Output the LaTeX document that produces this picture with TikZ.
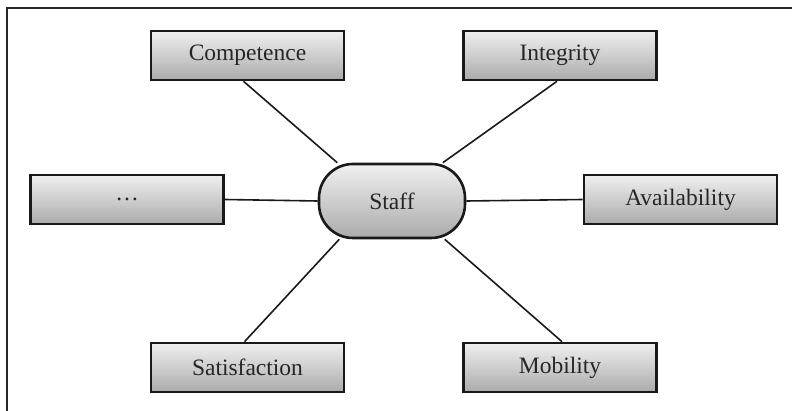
\documentclass[tikz,border=0pt]{standalone}
\usepackage{fontspec}
\setmainfont{Liberation Serif}
\usepackage{tikz}
\usetikzlibrary{calc}
\pgfdeclarelayer{bg}
\pgfsetlayers{bg,main}

\begin{document}
\begin{tikzpicture}[x=1pt, y=-1pt,
  attr/.style={draw=black!90, line width=2.6pt, top color=black!6, bottom color=black!33,
    minimum width=193pt, minimum height=49pt, inner sep=0pt,
    font=\fontsize{23.5}{28}\selectfont, text=black!85},
  hub/.style={attr, minimum width=146pt, minimum height=74pt, rounded corners=34pt},
  link/.style={line width=1.6pt, black!90}]
\useasboundingbox (0, 0) rectangle (792, 411);
\begin{scope}
  \node[attr] (comp) at (247.5, 55.5) {Competence}; %top left
  \node[attr] (integ) at (560, 55.5) {Integrity}; %top right
  \node[attr] (more) at (127, 199.5) {\dots}; %left
  \node[hub] (staff) at (392, 201) {Staff}; %centre
  \node[attr] (avail) at (680.5, 199.5) {Availability}; %right
  \node[attr] (satis) at (247.5, 367.5) {Satisfaction}; %bottom left
  \node[attr] (mobil) at (560, 367.5) {Mobility}; %bottom right
\begin{pgfonlayer}{bg}
  \draw[line width=1.8pt, black!85] (7, 411) -- (7, 8) -- (792, 8); %frame
  \draw[link] ($(comp.south)+(-4,0)$) -- (staff.145);
  \draw[link] ($(integ.south)+(-3,0)$) -- (staff.37);
  \draw[link] (more.east) -- (staff.west);
  \draw[link] (avail.west) -- (staff.east);
  \draw[link] ($(satis.north)+(-3,0)$) -- (staff.-144);
  \draw[link] ($(mobil.north)+(2,0)$) -- (staff.-36);
\end{pgfonlayer}
\end{scope}
\end{tikzpicture}
\end{document}
